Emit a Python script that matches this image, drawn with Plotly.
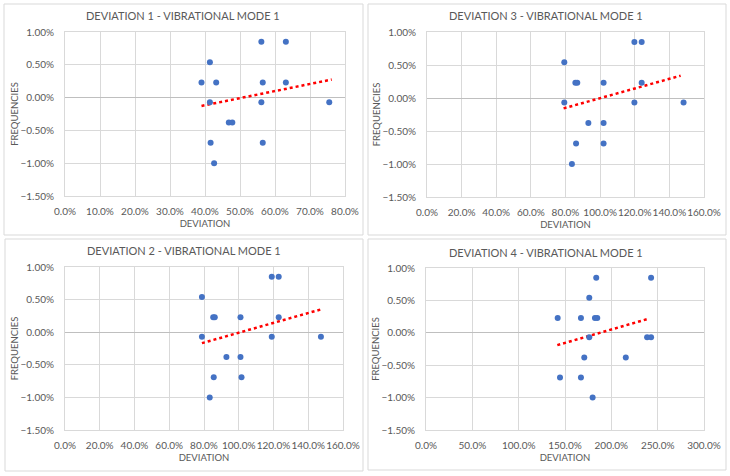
import plotly.graph_objects as go

# ---- data (fractions; displayed as %) ----
dev1_x = [0.390, 0.414, 0.414, 0.432, 0.416, 0.426, 0.468, 0.478, 0.561, 0.565, 0.561, 0.565, 0.631, 0.631, 0.755]
dev1_y = [0.0023, 0.0054, -0.0007, 0.0023, -0.0069, -0.0100, -0.0038, -0.0038, 0.0085, 0.0023, -0.0007, -0.0069, 0.0085, 0.0023, -0.0007]
trend1_x = [0.390, 0.762]
trend1_y = [-0.00127, 0.00275]

dev3_x = [0.793, 0.793, 0.857, 0.868, 0.861, 0.837, 0.932, 1.020, 1.020, 1.020, 1.198, 1.240, 1.240, 1.198, 1.482]
dev3_y = [0.0054, -0.0007, 0.0023, 0.0023, -0.0069, -0.0100, -0.0038, 0.0023, -0.0038, -0.0069, 0.0085, 0.0085, 0.0023, -0.0007, -0.0007]
trend3_x = [0.789, 1.465]
trend3_y = [-0.00157, 0.00338]

dev2_x = [0.788, 0.788, 0.853, 0.862, 0.856, 0.833, 0.929, 1.010, 1.010, 1.016, 1.190, 1.230, 1.230, 1.190, 1.473]
dev2_y = [0.0054, -0.0007, 0.0023, 0.0023, -0.0069, -0.0100, -0.0038, 0.0023, -0.0038, -0.0069, 0.0085, 0.0085, 0.0023, -0.0007, -0.0007]
trend2_x = [0.788, 1.470]
trend2_y = [-0.00168, 0.00347]

dev4_x = [1.421, 1.446, 1.672, 1.672, 1.708, 1.762, 1.762, 1.798, 1.837, 1.823, 1.848, 2.156, 2.386, 2.429, 2.429]
dev4_y = [0.0023, -0.0069, 0.0023, -0.0069, -0.0038, 0.0054, -0.0007, -0.0100, 0.0085, 0.0023, 0.0023, -0.0038, -0.0007, -0.0007, 0.0085]
trend4_x = [1.417, 2.400]
trend4_y = [-0.00190, 0.00216]

titles = ["DEVIATION 1 - VIBRATIONAL MODE 1", "DEVIATION 3 - VIBRATIONAL MODE 1",
          "DEVIATION 2 - VIBRATIONAL MODE 1", "DEVIATION 4 - VIBRATIONAL MODE 1"]
x_ranges = [[0, 0.8], [0, 1.6], [0, 1.6], [0, 3.0]]
x_dticks = [0.1, 0.2, 0.2, 0.5]
series = [(dev1_x, dev1_y, trend1_x, trend1_y), (dev3_x, dev3_y, trend3_x, trend3_y),
          (dev2_x, dev2_y, trend2_x, trend2_y), (dev4_x, dev4_y, trend4_x, trend4_y)]

W, H = 730, 476
# plot-area pixel boxes (left, right, top, bottom)
boxes = [(65, 345, 32, 196), (427, 704, 32, 197), (65, 343, 267, 430), (426, 704, 268, 430)]
# panel borders (left, right, top, bottom)
panels = [(4, 363, 4, 235), (368, 726, 4, 235), (5, 363, 239, 471), (368, 726, 239, 470)]
title_pos = [(183, 15), (546, 15), (184, 250), (546, 252)]

FONT = "Lato, 'Open Sans', sans-serif"
GREY = "#595959"
GRID = "#d9d9d9"

fig = go.Figure()
layout = dict(width=W, height=H, margin=dict(l=0, r=0, t=0, b=0, autoexpand=False),
              paper_bgcolor="white", plot_bgcolor="white", showlegend=False,
              font=dict(family=FONT, color=GREY, size=10))
shapes = []
annotations = []

for i, ((xs, ys, txs, tys), box) in enumerate(zip(series, boxes)):
    n = "" if i == 0 else str(i + 1)
    xa, ya = "x" + n, "y" + n
    l, r, t, b = box
    xdom = [l / W, r / W]
    ydom = [1 - b / H, 1 - t / H]
    fig.add_trace(go.Scatter(x=txs, y=tys, mode="lines", xaxis=xa, yaxis=ya,
                             line=dict(color="#FF0000", width=2.5, dash="dot")))
    fig.add_trace(go.Scatter(x=xs, y=ys, mode="markers", xaxis=xa, yaxis=ya,
                             marker=dict(color="#4472C4", size=6, line=dict(width=0))))
    layout["xaxis" + n] = dict(domain=xdom, range=x_ranges[i], dtick=x_dticks[i], tick0=0,
                               tickformat=".1%", showgrid=True, gridcolor=GRID, gridwidth=1,
                               zeroline=False, showline=True, mirror=True, linecolor=GRID,
                               ticks="", ticklen=0, anchor=ya, tickangle=0, automargin=False,
                               ticklabelstandoff=6,
                               tickfont=dict(size=10, color=GREY, family=FONT),
                               title=dict(text="DEVIATION", standoff=4,
                                          font=dict(size=9.5, color=GREY, family=FONT)))
    layout["yaxis" + n] = dict(domain=ydom, range=[-0.015, 0.01], dtick=0.005, tick0=0,
                               tickformat=".2%", showgrid=True, gridcolor=GRID, gridwidth=1,
                               zeroline=True, zerolinecolor="#bfbfbf", zerolinewidth=1,
                               showline=True, mirror=True, linecolor=GRID,
                               ticks="", ticklen=0, anchor=xa, automargin=False,
                               ticklabelstandoff=8,
                               tickfont=dict(size=10, color=GREY, family=FONT),
                               title=dict(text="FREQUENCIES", standoff=0,
                                          font=dict(size=9.5, color=GREY, family=FONT)))
    pl, pr, pt, pb = panels[i]
    shapes.append(dict(type="rect", xref="paper", yref="paper",
                       x0=pl / W, x1=pr / W, y0=1 - pb / H, y1=1 - pt / H,
                       line=dict(color=GRID, width=1), layer="below"))
    cx, cy = title_pos[i]
    annotations.append(dict(text=titles[i], xref="paper", yref="paper",
                            x=cx / W, y=1 - cy / H, xanchor="center", yanchor="middle",
                            showarrow=False, font=dict(size=11, color=GREY, family=FONT)))

layout["shapes"] = shapes
layout["annotations"] = annotations
fig.update_layout(**layout)
fig.write_html("out.html")
